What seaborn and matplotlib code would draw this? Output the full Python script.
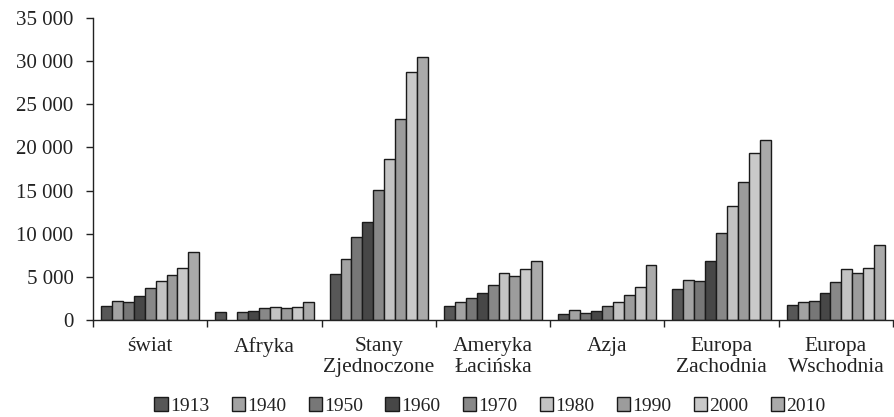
import numpy as np
import pandas as pd
import matplotlib
matplotlib.use("Agg")
import matplotlib.pyplot as plt
from matplotlib.ticker import FuncFormatter, FixedLocator
import seaborn as sns

regions = ["świat", "Afryka", "Stany\nZjednoczone", "Ameryka\nŁacińska",
           "Azja", "Europa\nZachodnia", "Europa\nWschodnia"]
years = ["1913", "1940", "1950", "1960", "1970", "1980", "1990", "2000", "2010"]

swiat = [1590, 2200, 2130, 2780, 3750, 4560, 5180, 6070, 7850]
afryka = [965, np.nan, 890, 1100, 1380, 1510, 1430, 1510, 2060]
usa = [5370, 7080, 9630, 11370, 15050, 18640, 23280, 28730, 30510]
ameryka_lac = [1590, 2090, 2520, 3170, 4020, 5450, 5100, 5920, 6810]
azja = [735, 1120, 770, 1080, 1590, 2090, 2860, 3830, 6380]
europa_zach = [3560, 4600, 4520, 6840, 10130, 13190, 15970, 19340, 20880]
europa_wsch = [1780, 2090, 2200, 3130, 4410, 5880, 5490, 6030, 8740]

series = [swiat, afryka, usa, ameryka_lac, azja, europa_zach, europa_wsch]
colors = ["#575757", "#a3a3a3", "#777777", "#474747", "#888888",
          "#c3c3c3", "#9c9c9c", "#c9c9c9", "#aaaaaa"]

rows = []
for reg, vals in zip(regions, series):
    for yr, v in zip(years, vals):
        rows.append({"region": reg, "year": yr, "value": v})
df = pd.DataFrame(rows)

sns.set_style("white")
plt.rcParams["font.family"] = ["Liberation Serif", "DejaVu Serif"]

fig = plt.figure(figsize=(8.94, 4.17), dpi=100)
ax = fig.add_axes([0.104, 0.2326, 0.895, 0.7242])

sns.barplot(data=df, x="region", y="value", hue="year", order=regions,
            hue_order=years, palette=colors, width=0.86, gap=0,
            edgecolor="#1a1a1a", linewidth=1.0, saturation=1, ax=ax)

ax.set_ylim(0, 35000)
ax.set_xlim(-0.5, 6.5)
ax.set_yticks(np.arange(0, 35001, 5000))
ax.yaxis.set_major_formatter(FuncFormatter(lambda v, p: f"{int(v):,}".replace(",", " ")))
ax.set_xlabel("")
ax.set_ylabel("")

for s in ["top", "right"]:
    ax.spines[s].set_visible(False)
for s in ["left", "bottom"]:
    ax.spines[s].set_color("#222222")
    ax.spines[s].set_linewidth(1.0)

ax.tick_params(axis="y", which="major", left=True, length=5, width=1,
               color="#222222", labelsize=15, pad=9, colors="#222222")
ax.tick_params(axis="x", which="major", length=0, labelsize=15.5, pad=12,
               colors="#222222")
for lbl in ax.get_xticklabels():
    lbl.set_linespacing(1.15)
ax.xaxis.set_minor_locator(FixedLocator(np.arange(-0.5, 7, 1.0)))
ax.tick_params(axis="x", which="minor", bottom=True, length=5, width=1,
               color="#222222")

handles, labels = ax.get_legend_handles_labels()
ax.legend_.remove()
fig.legend(handles, labels, loc="lower center", bbox_to_anchor=(0.548, -0.037),
           ncol=9, frameon=False, fontsize=14, handlelength=0.7,
           handleheight=0.7, handletextpad=0.1, columnspacing=1.15,
           labelcolor="#222222")

fig.savefig("out.png", dpi=100)
